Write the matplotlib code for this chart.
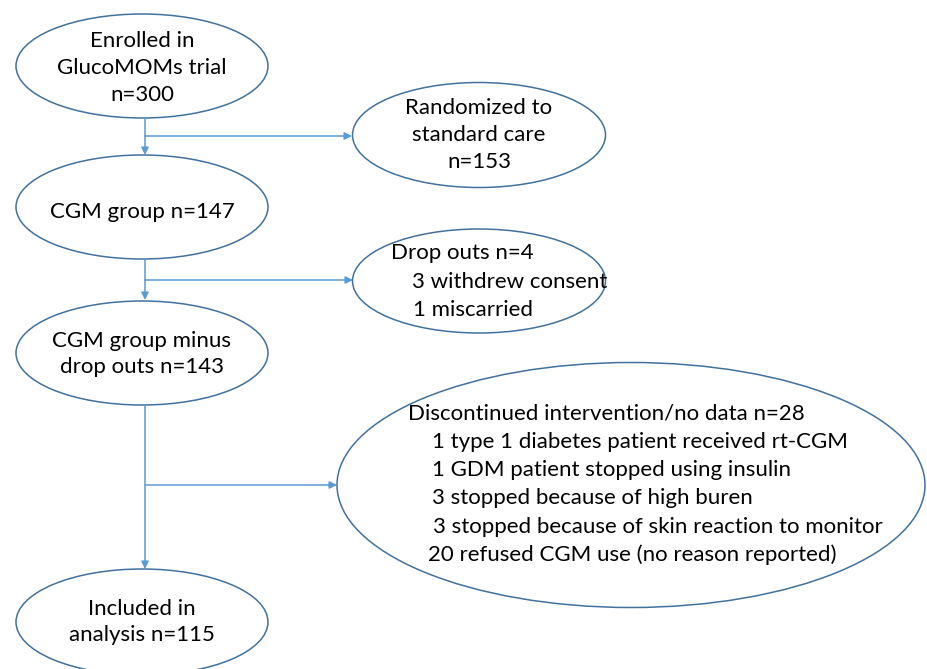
import matplotlib.pyplot as plt
from matplotlib.patches import Ellipse

plt.rcParams['font.family'] = ['Lato', 'DejaVu Sans']

W, H = 927, 669

# boxes: centre x, centre y, width, height (pixels, y down)
box_xy = [(142, 66), (479, 135), (142, 207), (479, 281), (142, 353), (631, 485), (142, 622)]
box_wh = [(252, 104), (253, 105), (252, 104), (253, 104), (252, 104), (588, 245), (252, 106)]

# centred texts
center_texts = [
    (142, 68, "Enrolled in\nGlucoMOMs trial\nn=300"),
    (479, 135, "Randomized to\nstandard care\nn=153"),
    (142, 212, "CGM group n=147"),
    (142, 354, "CGM group minus\ndrop outs n=143"),
    (142, 622, "Included in\nanalysis n=115"),
]

# left aligned lines: x, y, text
left_texts = [
    (391, 253, "Drop outs n=4"),
    (412, 282, "3 withdrew consent"),
    (413, 310, "1 miscarried"),
    (408, 413, "Discontinued intervention/no data n=28"),
    (432, 442, "1 type 1 diabetes patient received rt-CGM"),
    (432, 470, "1 GDM patient stopped using insulin"),
    (432, 498, "3 stopped because of high buren"),
    (433, 527, "3 stopped because of skin reaction to monitor"),
    (428, 555, "20 refused CGM use (no reason reported)"),
]

# main flow arrows: x, y start, y end
down_arrows = [(145, 118, 155), (145, 259, 300), (145, 405, 569)]
# side branches: y, x start, x end
side_arrows = [(136, 145, 352), (280, 145, 353), (485, 145, 337)]

edge = '#41719C'
arrow_col = '#5B9BD5'

fig = plt.figure(figsize=(W / 100, H / 100), dpi=100)
ax = fig.add_axes([0, 0, 1, 1])
ax.set_xlim(0, W)
ax.set_ylim(H, 0)
ax.axis('off')

for (cx, cy), (w, h) in zip(box_xy, box_wh):
    ax.add_patch(Ellipse((cx, cy), w, h, fill=False, edgecolor=edge, lw=1.1))

for x, y0, y1 in down_arrows:
    ax.annotate('', xy=(x, y1), xytext=(x, y0),
                arrowprops=dict(arrowstyle='-|>', color=arrow_col, lw=1.1,
                                mutation_scale=11, shrinkA=0, shrinkB=0))
for y, x0, x1 in side_arrows:
    ax.annotate('', xy=(x1, y), xytext=(x0, y),
                arrowprops=dict(arrowstyle='-|>', color=arrow_col, lw=1.1,
                                mutation_scale=11, shrinkA=0, shrinkB=0))

for x, y, s in center_texts:
    ax.text(x, y, s, ha='center', va='center', fontsize=16, linespacing=1.42)

for x, y, s in left_texts:
    ax.text(x, y, s, ha='left', va='center', fontsize=16)

fig.savefig('out.png', dpi=100, facecolor='white')
